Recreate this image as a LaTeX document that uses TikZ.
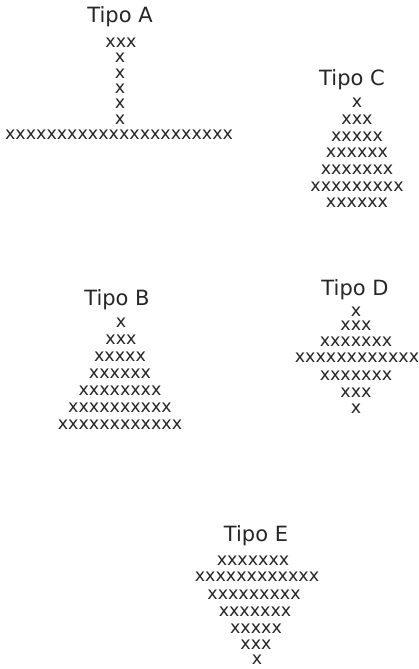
\documentclass[tikz,border=0pt]{standalone}
\usepackage{fontspec}
\setmainfont{DejaVu Sans}
\begin{document}
\begin{tikzpicture}[x=1pt, y=1pt,
        every node/.style={inner sep=0pt, text=black!85},
        tipo/.style={font=\fontsize{21}{25}\selectfont},
        fila/.style={font=\fontsize{17.5}{20}\selectfont},
        filae/.style={font=\fontsize{17.5}{20}\selectfont}]
        \useasboundingbox (0,0) rectangle (419,669);
        % Tipo A
        \node[tipo] (tA) at (120,652) {Tipo A};
        \node[fila] (a1) at (121,626) {xxx};
        \node[fila] (a2) at (120,611) {x};
        \node[fila] (a3) at (120,595) {x};
        \node[fila] (a4) at (120,580) {x};
        \node[fila] (a5) at (120,565) {x};
        \node[fila] (a6) at (120,549) {x};
        \node[fila] (a7) at (119,534) {xxxxxxxxxxxxxxxxxxxxxx};
        % Tipo C
        \node[tipo] (tC) at (352,589) {Tipo C};
        \node[fila] (c1) at (357,566) {x};
        \node[fila] (c2) at (357,549) {xxx};
        \node[fila] (c3) at (357,532) {xxxxx};
        \node[fila] (c4) at (357,516) {xxxxxx};
        \node[fila] (c5) at (357,499) {xxxxxxx};
        \node[fila] (c6) at (357,482) {xxxxxxxxx};
        \node[fila] (c7) at (357,466) {xxxxxx};
        % Tipo B
        \node[tipo] (tB) at (117,369) {Tipo B};
        \node[fila] (b1) at (121,346) {x};
        \node[fila] (b2) at (121,329) {xxx};
        \node[fila] (b3) at (120,312) {xxxxx};
        \node[fila] (b4) at (120,295) {xxxxxx};
        \node[fila] (b5) at (120,278) {xxxxxxxx};
        \node[fila] (b6) at (120,261) {xxxxxxxxxx};
        \node[fila] (b7) at (120,244) {xxxxxxxxxxxx};
        % Tipo D
        \node[tipo] (tD) at (355,379) {Tipo D};
        \node[fila] (d1) at (356,357) {x};
        \node[fila] (d2) at (356,343) {xxx};
        \node[fila] (d3) at (356,327) {xxxxxxx};
        \node[fila] (d4) at (357,311) {xxxxxxxxxxxx};
        \node[fila] (d5) at (356,293) {xxxxxxx};
        \node[fila] (d6) at (356,276) {xxx};
        \node[fila] (d7) at (356,260) {x};
        % Tipo E
        \node[tipo] (tE) at (256,133) {Tipo E};
        \node[filae] (e1) at (253,108) {xxxxxxx};
        \node[filae] (e2) at (257,92) {xxxxxxxxxxxx};
        \node[filae] (e3) at (254,74) {xxxxxxxxx};
        \node[filae] (e4) at (255,57) {xxxxxxx};
        \node[filae] (e5) at (256,40) {xxxxx};
        \node[filae] (e6) at (256,24) {xxx};
        \node[filae] (e7) at (257,9) {x};
\end{tikzpicture}
\end{document}
